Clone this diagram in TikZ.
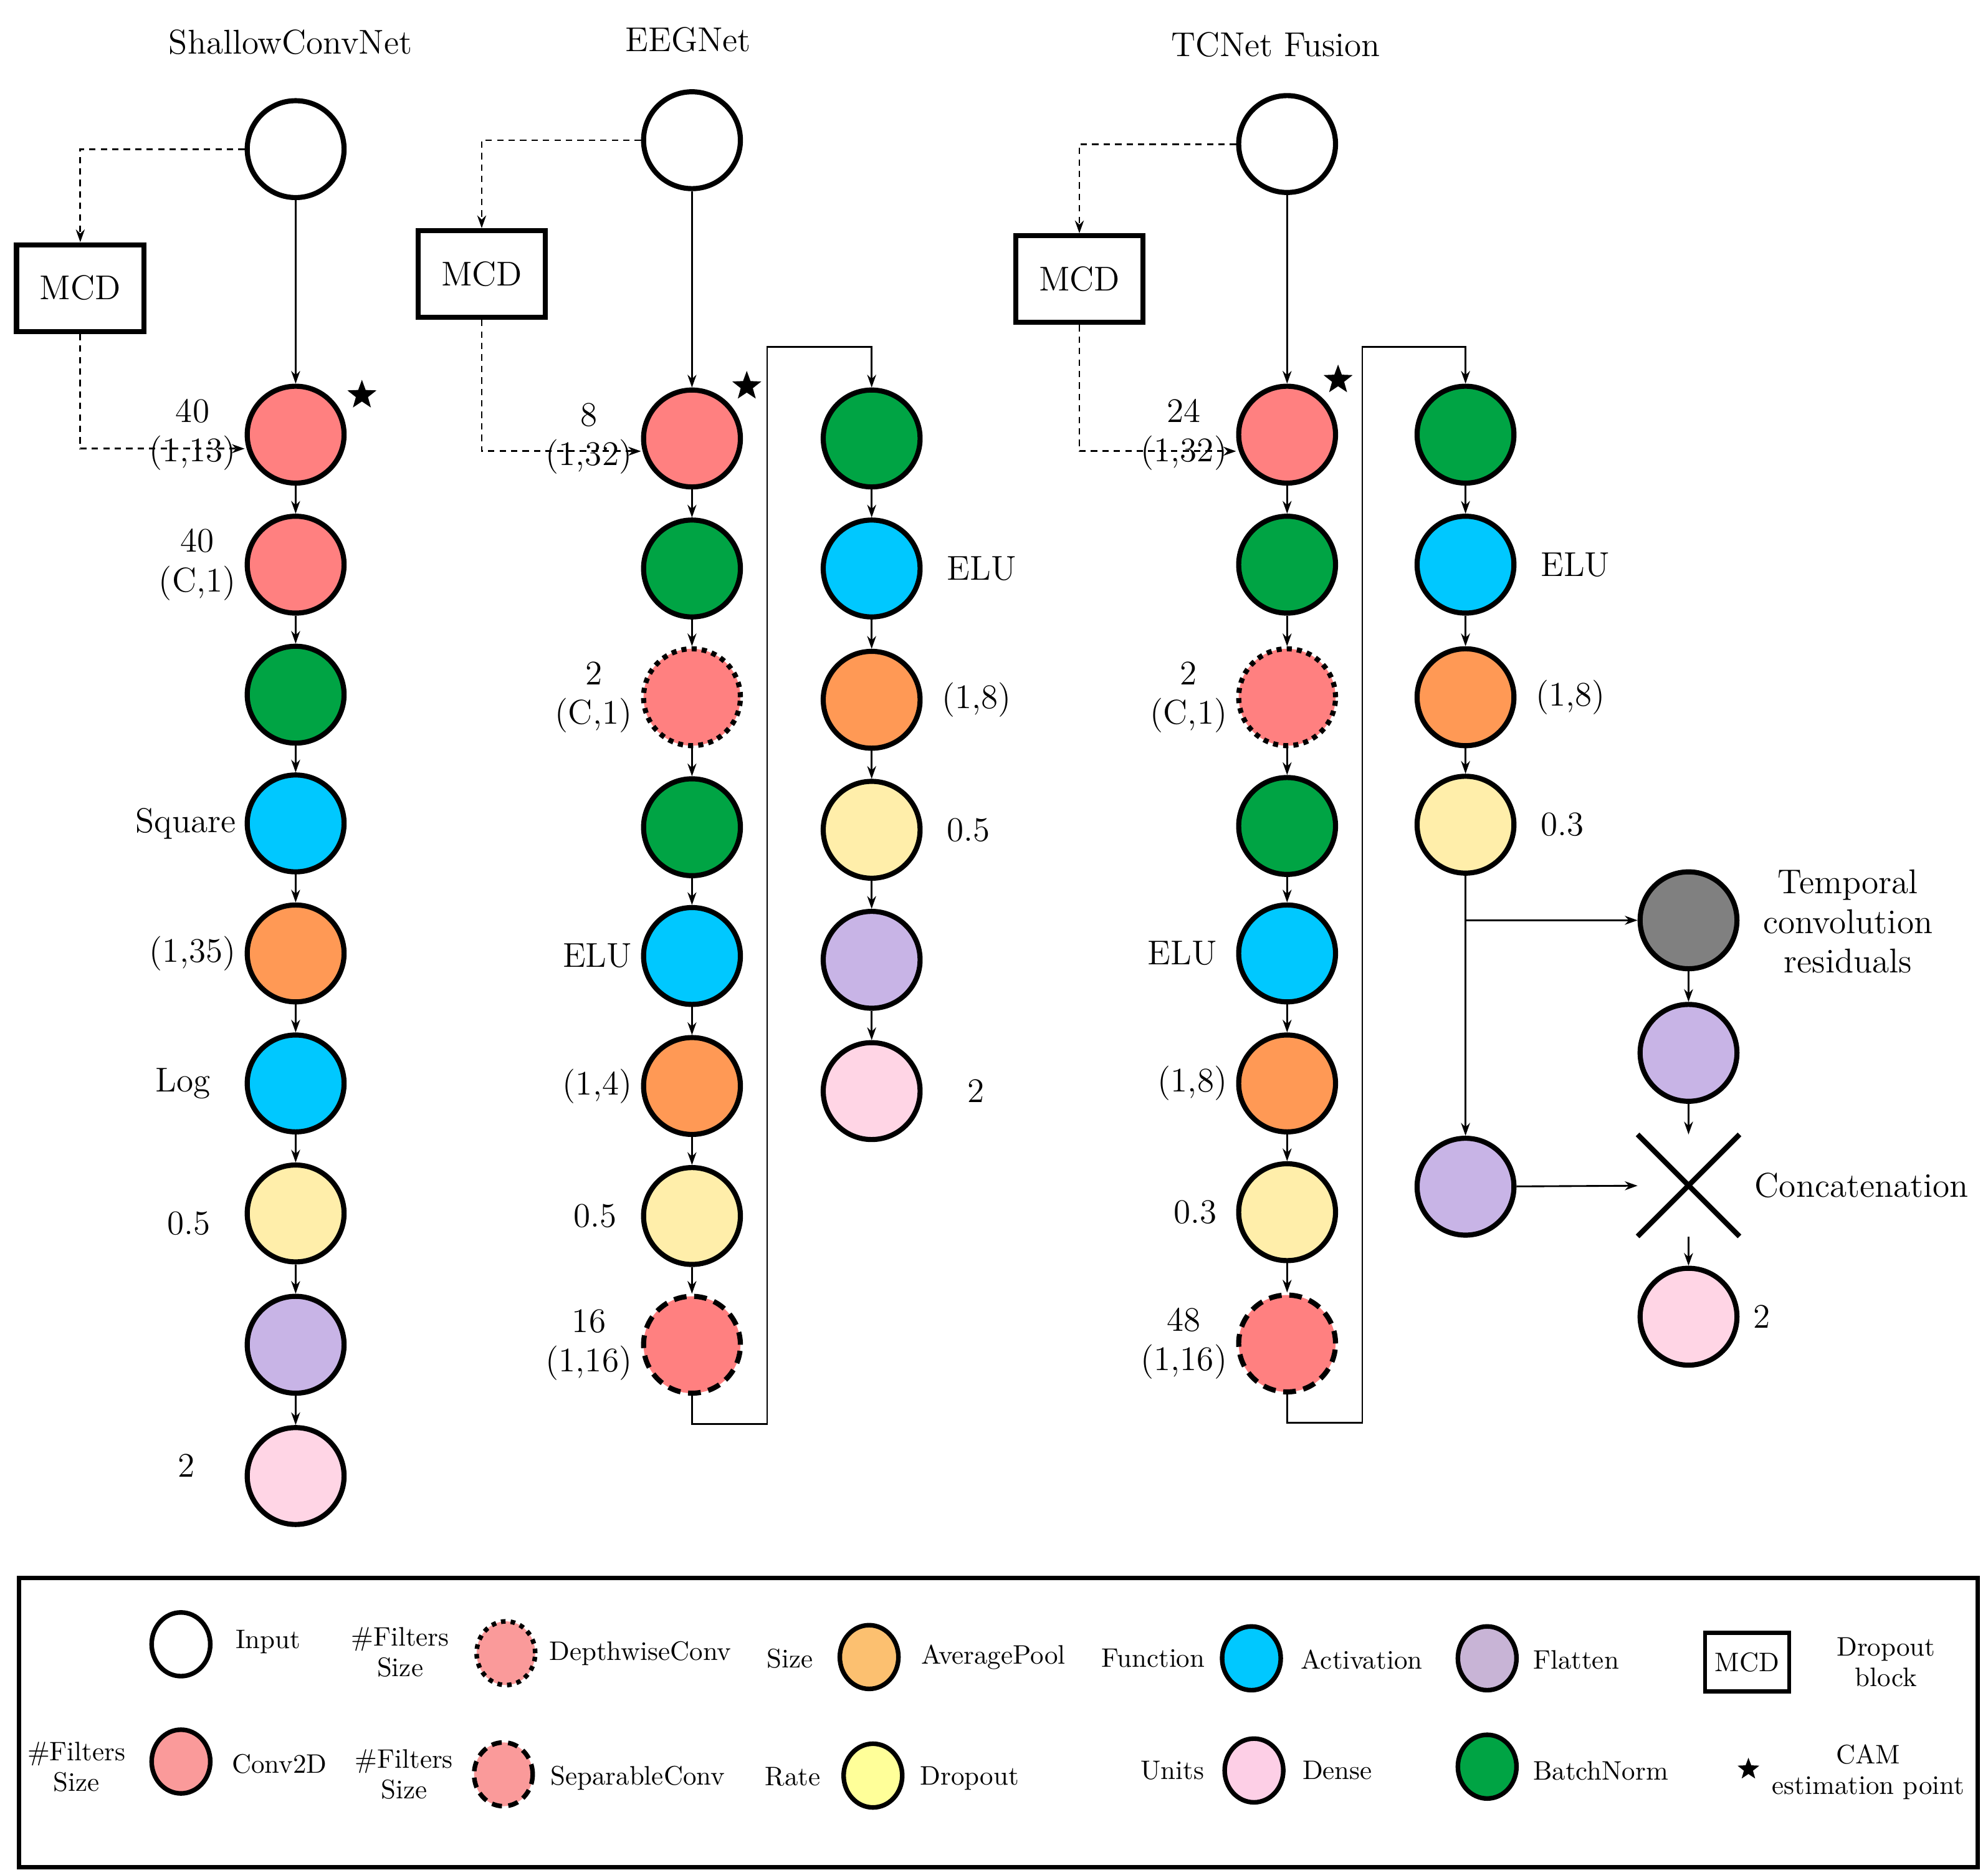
\documentclass[tikz,border=0pt]{standalone}
\usetikzlibrary{arrows.meta,shapes.geometric,shapes.misc}
\definecolor{cconv}{HTML}{FF8080}
\definecolor{cbn}{HTML}{00A444}
\definecolor{cact}{HTML}{00C8FF}
\definecolor{cpool}{HTML}{FF9955}
\definecolor{cdrop}{HTML}{FFEEAA}
\definecolor{cflat}{HTML}{C8B4E6}
\definecolor{cdense}{HTML}{FFD5E5}
\definecolor{lconv}{HTML}{FA9A9A}
\definecolor{lpool}{HTML}{FCC070}
\definecolor{ldrop}{HTML}{FFFF99}
\definecolor{lflat}{HTML}{C8B4D6}
\definecolor{ldense}{HTML}{FDCFE6}
\begin{document}
\begin{tikzpicture}[x=0.5pt,y=-0.5pt,
  L/.style={circle,draw,line width=2pt,minimum size=38pt,inner sep=0pt},
  inp/.style={L,fill=white},
  conv/.style={L,fill=cconv},
  dw/.style={L,fill=cconv,dotted},
  sep/.style={L,fill=cconv,dash pattern=on 5pt off 3pt},
  bn/.style={L,fill=cbn},
  act/.style={L,fill=cact},
  pool/.style={L,fill=cpool},
  drop/.style={L,fill=cdrop},
  flat/.style={L,fill=cflat},
  dense/.style={L,fill=cdense},
  gnode/.style={L,fill=gray},
  cat/.style={L,fill=white,cross out,draw},
  lbl/.style={font=\fontsize{13.5}{15.5}\selectfont,align=center},
  ttl/.style={font=\fontsize{13.5}{15.5}\selectfont},
  ar/.style={-{Stealth[length=5pt,width=3.5pt]},line width=0.7pt},
  da/.style={ar,dash pattern=on 2.5pt off 2pt},
  mcd/.style={draw,line width=2pt,minimum width=50pt,minimum height=34pt,font=\fontsize{13.5}{15.5}\selectfont},
  st/.style={star,star points=5,star point ratio=2.4,fill=black,inner sep=0pt,minimum size=12pt},
  E/.style={ellipse,draw,line width=1.8pt,minimum width=23pt,minimum height=25pt,inner sep=0pt},
  lt/.style={font=\fontsize{10.5}{12}\selectfont,align=center}]
\useasboundingbox (0,0) rectangle (1560,1467);
% ---------- ShallowConvNet
\node[ttl] (t1) at (228,33) {ShallowConvNet};
\node[inp] (a0) at (232,117) {};
\node[conv,label={[lbl]left:40\\(1,13)}] (a1) at (232,341) {};
\node[conv,label={[lbl]left:40\\(C,1)}] (a2) at (232,443) {};
\node[bn] (a3) at (232,545) {};
\node[act,label={[lbl]left:Square}] (a4) at (232,646) {};
\node[pool,label={[lbl]left:(1,35)}] (a5) at (232,748) {};
\node[act,label={[lbl,xshift=-10pt]left:Log}] (a6) at (232,850) {};
\node[drop,label={[lbl,xshift=-10pt,yshift=-4pt]left:0.5}] (a7) at (232,952) {};
\node[flat] (a8) at (232,1055) {};
\node[dense,label={[lbl,xshift=-16pt,yshift=4pt]left:2}] (a9) at (232,1158) {};
\draw[ar] (a0)--(a1);
\foreach \i/\j in {1/2,2/3,3/4,4/5,5/6,6/7,7/8,8/9} \draw[ar] (a\i)--(a\j);
\node[mcd] (m1) at (63,226) {MCD};
\coordinate (m1a) at (63,117);
\coordinate (m1b) at (63,352);
\draw[da] (a0.west) -- (m1a) -- (m1.north);
\draw[da] (m1.south) -- (m1b) -- (a1.west|-m1b);
\node[st] (s1) at (284,310) {};
% ---------- EEGNet
\node[ttl] (t2) at (540,31) {EEGNet};
\node[inp] (b0) at (543,110) {};
\node[conv,label={[lbl]left:8\\(1,32)}] (b1) at (543,344) {};
\node[bn] (b2) at (543,446) {};
\node[dw,label={[lbl]left:2\\(C,1)}] (b3) at (543,547) {};
\node[bn] (b4) at (543,649) {};
\node[act,label={[lbl]left:ELU}] (b5) at (543,750) {};
\node[pool,label={[lbl]left:(1,4)}] (b6) at (543,852) {};
\node[drop,label={[lbl,xshift=-6pt]left:0.5}] (b7) at (543,954) {};
\node[sep,label={[lbl]left:16\\(1,16)}] (b8) at (543,1055) {};
\node[bn] (c1) at (684,344) {};
\node[act,label={[lbl,xshift=6pt]right:ELU}] (c2) at (684,446) {};
\node[pool,label={[lbl,xshift=4pt]right:(1,8)}] (c3) at (684,549) {};
\node[drop,label={[lbl,xshift=6pt]right:0.5}] (c4) at (684,651) {};
\node[flat] (c5) at (684,753) {};
\node[dense,label={[lbl,xshift=14pt]right:2}] (c6) at (684,856) {};
\draw[ar] (b0)--(b1);
\foreach \i/\j in {1/2,2/3,3/4,4/5,5/6,6/7,7/8} \draw[ar] (b\i)--(b\j);
\foreach \i/\j in {1/2,2/3,3/4,4/5,5/6} \draw[ar] (c\i)--(c\j);
\coordinate (bp1) at (543,1117);
\coordinate (bp2) at (602,1117);
\coordinate (bp3) at (602,272);
\coordinate (bp4) at (684,272);
\draw[ar] (b8.south) -- (bp1) -- (bp2) -- (bp3) -- (bp4) -- (c1.north);
\node[mcd] (m2) at (378,215) {MCD};
\coordinate (m2a) at (378,110);
\coordinate (m2b) at (378,354);
\draw[da] (b0.west) -- (m2a) -- (m2.north);
\draw[da] (m2.south) -- (m2b) -- (b1.west|-m2b);
\node[st] (s2) at (586,303) {};
% ---------- TCNet Fusion
\node[ttl] (t3) at (1001,35) {TCNet Fusion};
\node[inp] (d0) at (1010,113) {};
\node[conv,label={[lbl]left:24\\(1,32)}] (d1) at (1010,341) {};
\node[bn] (d2) at (1010,443) {};
\node[dw,label={[lbl]left:2\\(C,1)}] (d3) at (1010,547) {};
\node[bn] (d4) at (1010,648) {};
\node[act,label={[lbl,xshift=-4pt]left:ELU}] (d5) at (1010,748) {};
\node[pool,label={[lbl]left:(1,8)}] (d6) at (1010,850) {};
\node[drop,label={[lbl,xshift=-4pt]left:0.3}] (d7) at (1010,951) {};
\node[sep,label={[lbl]left:48\\(1,16)}] (d8) at (1010,1054) {};
\node[bn] (e1) at (1150,341) {};
\node[act,label={[lbl,xshift=6pt]right:ELU}] (e2) at (1150,443) {};
\node[pool,label={[lbl,xshift=4pt]right:(1,8)}] (e3) at (1150,547) {};
\node[drop,label={[lbl,xshift=6pt]right:0.3}] (e4) at (1150,647) {};
\node[flat] (e5) at (1150,931) {};
\node[gnode] (g1) at (1325,722) {};
\node[flat] (g2) at (1325,826) {};
\node[cat] (g3) at (1325,930) {};
\node[dense,label={[lbl,xshift=2pt]right:2}] (g4) at (1325,1033) {};
\node[lbl] (tcr) at (1450,723) {Temporal\\convolution\\residuals};
\node[lbl,anchor=west] (cc) at (1370,930) {Concatenation};
\draw[ar] (d0)--(d1);
\foreach \i/\j in {1/2,2/3,3/4,4/5,5/6,6/7,7/8} \draw[ar] (d\i)--(d\j);
\foreach \i/\j in {1/2,2/3,3/4,4/5} \draw[ar] (e\i)--(e\j);
\coordinate (br) at (1150,722);
\draw[ar] (br) -- (g1.west);
\draw[ar] (g1)--(g2); \draw[ar] (g2)--(g3); \draw[ar] (g3)--(g4);
\draw[ar] (e5)--(g3);
\coordinate (dp1) at (1010,1116);
\coordinate (dp2) at (1069,1116);
\coordinate (dp3) at (1069,272);
\coordinate (dp4) at (1150,272);
\draw[ar] (d8.south) -- (dp1) -- (dp2) -- (dp3) -- (dp4) -- (e1.north);
\node[mcd] (m3) at (847,219) {MCD};
\coordinate (m3a) at (847,113);
\coordinate (m3b) at (847,354);
\draw[da] (d0.west) -- (m3a) -- (m3.north);
\draw[da] (m3.south) -- (m3b) -- (d1.west|-m3b);
\node[st] (s3) at (1050,298) {};
% ---------- Legend
\node[draw,line width=1.6pt,minimum width=768.5pt,minimum height=113.5pt] (leg) at (783.5,1351.5) {};
\node[E,fill=white] (l1) at (142,1290) {}; \node[lt,anchor=west] (l1t) at (178,1288) {Input};
\node[lt] (l2a) at (314,1296) {\#Filters\\Size};
\node[E,fill=lconv,dotted] (l2) at (397,1297) {}; \node[lt,anchor=west] (l2t) at (424,1297) {DepthwiseConv};
\node[lt] (l3a) at (620,1301) {Size};
\node[E,fill=lpool] (l3) at (682,1300) {}; \node[lt,anchor=west] (l3t) at (716,1300) {AveragePool};
\node[lt] (l4a) at (905,1301) {Function};
\node[E,fill=cact] (l4) at (982,1301) {}; \node[lt,anchor=west] (l4t) at (1014,1302) {Activation};
\node[E,fill=lflat] (l5) at (1167,1301) {}; \node[lt,anchor=west] (l5t) at (1196,1302) {Flatten};
\node[draw,line width=1.6pt,minimum width=33pt,minimum height=23pt,lt] (l6) at (1371,1304) {MCD};
\node[lt] (l6t) at (1480,1304) {Dropout\\block};
\node[lt] (l7a) at (60,1386) {\#Filters\\Size};
\node[E,fill=lconv] (l7) at (142,1382) {}; \node[lt,anchor=west] (l7t) at (175,1384) {Conv2D};
\node[lt] (l8a) at (317,1392) {\#Filters\\Size};
\node[E,fill=lconv,dash pattern=on 4pt off 2.5pt] (l8) at (395,1392) {}; \node[lt,anchor=west] (l8t) at (425,1395) {SeparableConv};
\node[lt] (l9a) at (622,1394) {Rate};
\node[E,fill=ldrop] (l9) at (685,1393) {}; \node[lt,anchor=west] (l9t) at (715,1395) {Dropout};
\node[lt] (l10a) at (920,1389) {Units};
\node[E,fill=ldense] (l10) at (984,1389) {}; \node[lt,anchor=west] (l10t) at (1015,1389) {Dense};
\node[E,fill=cbn] (l11) at (1167,1386) {}; \node[lt,anchor=west] (l11t) at (1196,1389) {BatchNorm};
\node[st,minimum size=9pt] (l12) at (1372,1388) {};
\node[lt] (l12t) at (1466,1390) {CAM\\estimation point};
\end{tikzpicture}
\end{document}
